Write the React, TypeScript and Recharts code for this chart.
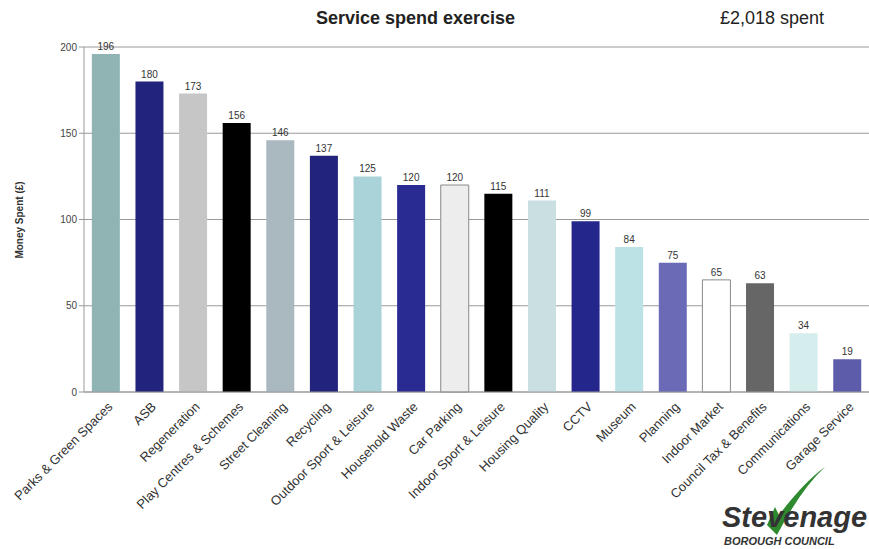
import React from "react";
import {
  BarChart,
  Bar,
  XAxis,
  YAxis,
  CartesianGrid,
  Cell,
  LabelList,
} from "recharts";

const services = [
  "Parks & Green Spaces",
  "ASB",
  "Regeneration",
  "Play Centres & Schemes",
  "Street Cleaning",
  "Recycling",
  "Outdoor Sport & Leisure",
  "Household Waste",
  "Car Parking",
  "Indoor Sport & Leisure",
  "Housing Quality",
  "CCTV",
  "Museum",
  "Planning",
  "Indoor Market",
  "Council Tax & Benefits",
  "Communications",
  "Garage Service",
];

const spent = [196, 180, 173, 156, 146, 137, 125, 120, 120, 115, 111, 99, 84, 75, 65, 63, 34, 19];

const barColors = [
  "#8fb4b3",
  "#22237c",
  "#c6c6c6",
  "#000000",
  "#a9b9bf",
  "#22237c",
  "#a9d3d9",
  "#2a2b92",
  "#ededed",
  "#000000",
  "#c9dfe2",
  "#25268c",
  "#bde2e5",
  "#6a6ab6",
  "#ffffff",
  "#666666",
  "#d5eded",
  "#5c5cab",
];

const yTicks = [0, 50, 100, 150, 200];

const data = services.map((name, i) => ({ name, value: spent[i] }));

function AngledTick(props: any) {
  const { x, y, payload } = props;
  return (
    <g transform={`translate(${x + 4},${y + 4})`}>
      <text
        transform="rotate(-45)"
        textAnchor="end"
        fontSize={13}
        fill="#333"
        fontFamily="Liberation Sans, Arial, sans-serif"
        dy={5}
      >
        {payload.value}
      </text>
    </g>
  );
}

export default function App() {
  return (
    <div
      style={{
        position: "absolute",
        left: 0,
        top: 0,
        width: 869,
        height: 549,
        background: "#fff",
        fontFamily: "Liberation Sans, Arial, sans-serif",
      }}
    >
      <div
        style={{
          position: "absolute",
          left: 316,
          top: 8,
          fontSize: 18,
          fontWeight: "bold",
          color: "#222",
        }}
      >
        Service spend exercise
      </div>
      <div
        style={{
          position: "absolute",
          left: 720,
          top: 8,
          fontSize: 18,
          color: "#222",
        }}
      >
        £2,018 spent
      </div>
      <div
        style={{
          position: "absolute",
          left: 14,
          top: 220,
          transform: "rotate(-90deg)",
          transformOrigin: "left top",
          fontSize: 10,
          fontWeight: "bold",
          color: "#333",
          whiteSpace: "nowrap",
        }}
      >
        <span style={{ display: "inline-block", transform: "translate(-50%, 0)" }}>
          Money Spent (£)
        </span>
      </div>
      <BarChart
        width={869}
        height={549}
        data={data}
        margin={{ top: 47, right: 0, left: 0, bottom: 0 }}
        barCategoryGap="18%"
      >
        <CartesianGrid vertical={false} stroke="#9a9a9a" />
        <XAxis
          dataKey="name"
          interval={0}
          height={157}
          tick={<AngledTick />}
          tickLine={false}
          axisLine={{ stroke: "#9a9a9a" }}
        />
        <YAxis
          width={84}
          domain={[0, 200]}
          ticks={yTicks}
          tick={{ fontSize: 10, fill: "#444" }}
          tickSize={5}
          tickLine={{ stroke: "#9a9a9a" }}
          axisLine={{ stroke: "#9a9a9a" }}
        />
        <Bar dataKey="value" isAnimationActive={false}>
          {data.map((d, i) => (
            <Cell
              key={i}
              fill={barColors[i]}
              stroke={barColors[i] === "#ffffff" || barColors[i] === "#ededed" ? "#8a8a8a" : "none"}
            />
          ))}
          <LabelList dataKey="value" position="top" fontSize={10} fill="#333" offset={4} />
        </Bar>
      </BarChart>
      <svg
        width={160}
        height={82}
        style={{ position: "absolute", left: 709, top: 467 }}
      >
        <path d="M58 58 L66 40 L70 48 Q95 15 116 0 Q92 22 68 68 Z" fill="#2f8a2f" />
        <text
          x={13}
          y={60}
          fontSize={29}
          fontWeight="bold"
          fontStyle="italic"
          fill="#333"
          fontFamily="Liberation Sans, Arial, sans-serif"
        >
          Stevenage
        </text>
        <text
          x={15}
          y={78}
          fontSize={11}
          fontWeight="bold"
          fontStyle="italic"
          fill="#333"
          fontFamily="Liberation Sans, Arial, sans-serif"
        >
          BOROUGH COUNCIL
        </text>
      </svg>
    </div>
  );
}
